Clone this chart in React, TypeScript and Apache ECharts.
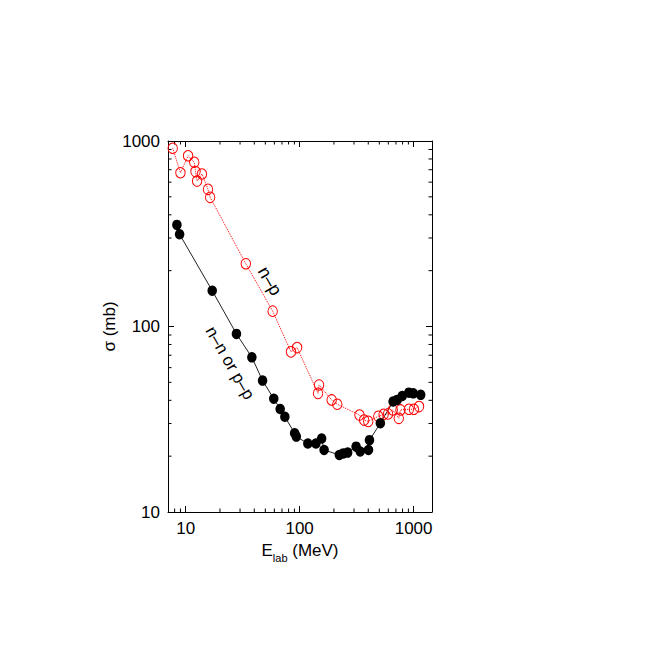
import React, { useEffect, useRef } from 'react';
import * as echarts from 'echarts';

// n-p cross sections (open red circles)
const NP_E = [7.7, 9.0, 10.5, 11.9, 12.2, 12.6, 13.9, 15.7, 16.4, 33.7, 58, 84, 95, 145, 148, 191, 214, 335, 368, 400, 490, 546, 597, 656, 741, 767, 908, 1006, 1115];
const NP_SIGMA = [914, 674, 833, 768, 684, 608, 664, 549, 497, 218, 121, 73, 77, 43.6, 48.4, 40.2, 38.1, 33.3, 31.3, 30.8, 32.8, 33.6, 33.8, 35.5, 32, 35.5, 35.8, 35.8, 37.0];

// n-n or p-p cross sections (filled black circles)
const NN_E = [8.38, 8.85, 17.1, 27.9, 38.1, 47.3, 59.3, 67.5, 74.2, 90.4, 93.5, 118, 139, 156, 164, 223, 242, 264, 313, 340, 402, 410, 511, 661, 718, 794, 908, 993, 1154];
const NN_SIGMA = [353, 314, 156, 91.2, 68.2, 51.1, 40.8, 35.9, 32.6, 26.6, 25.5, 23.4, 23.4, 24.9, 21.6, 20.3, 20.7, 20.9, 22.5, 21.2, 21.6, 24.4, 30.1, 39.4, 40.2, 42.2, 44, 43.6, 42.8];

const X_MIN = 7;
const X_MAX = 1450;
const Y_MIN = 10;
const Y_MAX = 1000;
const X_MINOR = [8, 9, 20, 30, 40, 50, 60, 70, 80, 90, 200, 300, 400, 500, 600, 700, 800, 900];
const Y_MINOR = [20, 30, 40, 50, 60, 70, 80, 90, 200, 300, 400, 500, 600, 700, 800, 900];
const TICK_LABELS = [10, 100, 1000];

const X_NAME = '{a|E}{b|lab}{a| (MeV)}';
const Y_NAME = 'σ (mb)';
const NP_LABEL = 'n–p';
const NN_LABEL = 'n–n or p–p';

const FONT = "'Liberation Sans Narrow', 'Liberation Sans', Arial, sans-serif";
const MAJOR_LEN = 6;
const MINOR_LEN = 3.5;

const labelFmt = (v: number) =>
  TICK_LABELS.some((t) => Math.abs(Math.log10(v) - Math.log10(t)) < 1e-6) ? String(Math.round(v)) : '';

export default function App() {
  const ref = useRef<HTMLDivElement>(null);
  useEffect(() => {
    if (!ref.current) return;
    const chart = echarts.init(ref.current, null, { renderer: 'svg' });
    const axisCommon = {
      axisLine: { show: true, lineStyle: { color: '#000', width: 1 } },
      axisTick: { show: true, inside: true, length: MAJOR_LEN, lineStyle: { color: '#000', width: 1 } },
      splitLine: { show: false },
    };
    const option: any = {
      animation: false,
      backgroundColor: '#fff',
      grid: { left: 168, right: 222, top: 141, bottom: 142, containLabel: false },
      xAxis: [
        {
          type: 'log', min: X_MIN, max: X_MAX, position: 'bottom', ...axisCommon,
          axisLabel: { formatter: labelFmt, color: '#000', fontFamily: FONT, fontSize: 17, margin: 8 },
          name: X_NAME, nameLocation: 'middle', nameGap: 27,
          nameTextStyle: {
            rich: {
              a: { fontFamily: FONT, fontSize: 17, color: '#000', lineHeight: 20, verticalAlign: 'bottom', padding: [0, 0, 5, 0] },
              b: { fontFamily: FONT, fontSize: 11, color: '#000', lineHeight: 13, verticalAlign: 'bottom' },
            },
          },
        },
        {
          type: 'log', min: X_MIN, max: X_MAX, position: 'top', ...axisCommon,
          axisLabel: { show: false },
        },
      ],
      yAxis: [
        {
          type: 'log', min: Y_MIN, max: Y_MAX, position: 'left', ...axisCommon,
          axisLabel: { formatter: labelFmt, color: '#000', fontFamily: FONT, fontSize: 17, margin: 8 },
          name: Y_NAME, nameLocation: 'middle', nameGap: 50, nameRotate: 90,
          nameTextStyle: { fontFamily: FONT, fontSize: 17, color: '#000' },
        },
        {
          type: 'log', min: Y_MIN, max: Y_MAX, position: 'right', ...axisCommon,
          axisLabel: { show: false },
        },
      ],
      series: [
        {
          type: 'custom', xAxisIndex: 0, yAxisIndex: 0, silent: true, clip: false,
          data: X_MINOR.map((v) => [v, Y_MIN]),
          renderItem: (_p: any, api: any) => {
            const v = api.value(0);
            const b = api.coord([v, Y_MIN]);
            const t = api.coord([v, Y_MAX]);
            return {
              type: 'group',
              children: [
                { type: 'line', shape: { x1: b[0], y1: b[1], x2: b[0], y2: b[1] - MINOR_LEN }, style: { stroke: '#000', lineWidth: 1 } },
                { type: 'line', shape: { x1: t[0], y1: t[1], x2: t[0], y2: t[1] + MINOR_LEN }, style: { stroke: '#000', lineWidth: 1 } },
              ],
            };
          },
        },
        {
          type: 'custom', xAxisIndex: 0, yAxisIndex: 0, silent: true, clip: false,
          data: Y_MINOR.map((v) => [X_MIN, v]),
          renderItem: (_p: any, api: any) => {
            const v = api.value(1);
            const l = api.coord([X_MIN, v]);
            const r = api.coord([X_MAX, v]);
            return {
              type: 'group',
              children: [
                { type: 'line', shape: { x1: l[0], y1: l[1], x2: l[0] + MINOR_LEN, y2: l[1] }, style: { stroke: '#000', lineWidth: 1 } },
                { type: 'line', shape: { x1: r[0], y1: r[1], x2: r[0] - MINOR_LEN, y2: r[1] }, style: { stroke: '#000', lineWidth: 1 } },
              ],
            };
          },
        },
        {
          name: 'n-p', type: 'line', xAxisIndex: 0, yAxisIndex: 0, silent: true,
          data: NP_E.map((e, i) => [e, NP_SIGMA[i]]),
          symbol: 'circle', symbolSize: [9.5, 10.5],
          lineStyle: { color: '#f00', width: 1, type: 'dotted' },
          itemStyle: { color: 'rgba(0,0,0,0)', borderColor: '#f00', borderWidth: 1 },
        },
        {
          name: 'n-n or p-p', type: 'line', xAxisIndex: 0, yAxisIndex: 0, silent: true,
          data: NN_E.map((e, i) => [e, NN_SIGMA[i]]),
          symbol: 'circle', symbolSize: [9.5, 10.5],
          lineStyle: { color: '#222', width: 1 },
          itemStyle: { color: '#000' },
        },
      ],
      graphic: [
        {
          type: 'text', x: 270, y: 281, rotation: -1.05,
          style: { text: NP_LABEL, font: `18px ${FONT}`, fill: '#000', align: 'center', verticalAlign: 'middle' },
        },
        {
          type: 'text', x: 230, y: 363, rotation: -1.05,
          style: { text: NN_LABEL, font: `17px ${FONT}`, fill: '#000', align: 'center', verticalAlign: 'middle' },
        },
      ],
    };
    chart.setOption(option);
    return () => chart.dispose();
  }, []);
  return <div ref={ref} style={{ position: 'fixed', left: 0, top: 0, width: 654, height: 654, background: '#fff' }} />;
}
